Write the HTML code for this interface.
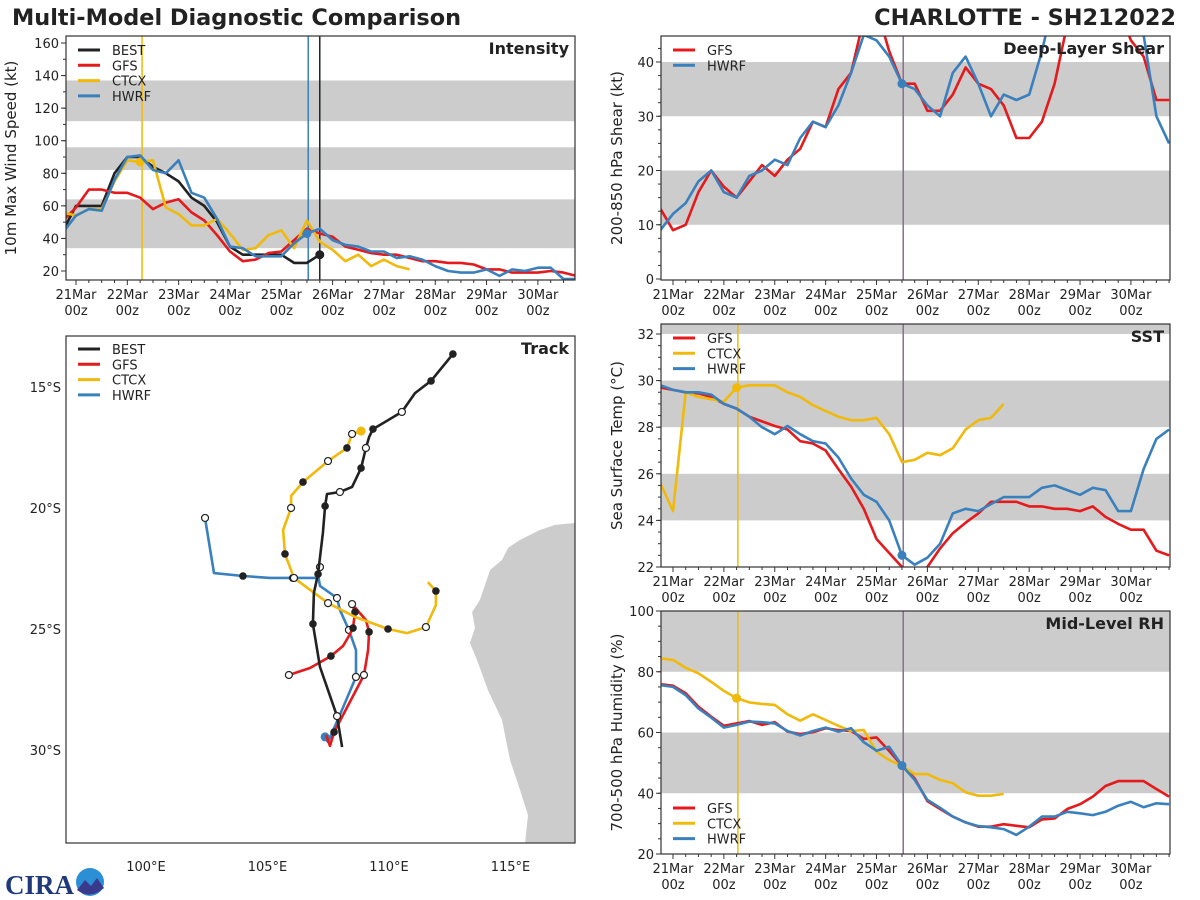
<!DOCTYPE html>
<html><head><meta charset="utf-8">
<style>
html,body{margin:0;padding:0;background:#fff;}
svg{display:block;font-family:"DejaVu Sans","Liberation Sans",sans-serif;}
</style></head>
<body>
<svg id="fig" width="1200" height="900" viewBox="0 0 1200 900" xmlns="http://www.w3.org/2000/svg">
<text x="12" y="25" font-size="22.4" font-weight="bold" fill="#222">Multi-Model Diagnostic Comparison</text>
<text x="1176" y="25" font-size="22.4" font-weight="bold" fill="#222" text-anchor="end">CHARLOTTE - SH212022</text>
<g>
<text x="5" y="894" font-size="27" font-weight="bold" fill="#1e3a7a" font-family="Liberation Serif, serif">CIRA</text>
<circle cx="90" cy="882" r="14" fill="#2b8fd6"/>
<path d="M77,890 L85,880 L91,886 L97,878 L104,888 Q90,900 77,890Z" fill="#3a3a8c"/>
</g>
</svg>
<script>
// ---------- data (6-hourly, first value = 20 Mar 18z) ----------
const intBest=[45,60,60,60,80,90,90,84,80,75,65,60,50,35,30,30,30,30,25,25,30];
const intGfs=[51,59,70,70,68,68,65,58,62,64,56,51,42,32,26,27,31,32,39,46,43,41,35,33,31,30,30,28,26,26,25,25,24,21,21,19,19,19,20,19,17];
const intCtcx=[56,54,58,58,75,88,87,88,59,55,48,48,52,43,33,34,42,45,34,51,38,33,26,30,23,27,23,21];
const intHwrf=[44,54,58,57,76,90,91,82,80,88,68,65,52,35,34,29,29,29,37,43,46,39,36,35,32,32,28,29,27,23,20,19,19,21,17,21,20,22,22,15,15];
const shrGfs=[13,9,10,16,20,17,15,18,21,19,22,24,29,28,35,38,48,50,42,36,36,31,31,34,39,36,35,32,26,26,29,36,47,50,50,50,50,44,41,33,33];
const shrHwrf=[9,12,14,18,20,16,15,19,20,22,21,26,29,28,32,38,45,44,41,36,35,32,30,38,41,36,30,34,33,34,42,52,55,55,55,55,55,55,45,30,25];
const sstGfs=[29.7,29.6,29.5,29.45,29.3,29.0,28.8,28.45,28.25,28.05,27.9,27.4,27.3,27.0,26.2,25.45,24.5,23.2,22.6,22.0,21.7,22.0,22.8,23.45,23.9,24.3,24.8,24.8,24.8,24.6,24.6,24.5,24.5,24.4,24.6,24.15,23.85,23.6,23.6,22.7,22.5];
const sstCtcx=[25.6,24.4,29.5,29.3,29.2,29.1,29.7,29.8,29.8,29.8,29.5,29.3,28.95,28.7,28.45,28.3,28.3,28.4,27.7,26.5,26.6,26.9,26.8,27.1,27.9,28.3,28.4,29.0];
const sstHwrf=[29.8,29.6,29.5,29.5,29.4,29.0,28.8,28.45,28.0,27.7,28.05,27.7,27.4,27.3,26.7,25.8,25.1,24.8,24.0,22.5,22.1,22.4,23.0,24.3,24.5,24.4,24.7,25.0,25.0,25.0,25.4,25.5,25.3,25.1,25.4,25.3,24.4,24.4,26.2,27.5,27.9];
const rhGfs=[75.9,75.4,72.9,68.5,65.2,62.2,63,63.8,62.5,63.4,60.3,59.5,60.1,61.4,60.8,60.5,57.9,58.4,53.9,49.1,44.9,37.4,34.8,32.3,30.4,29,29,29.8,29.3,28.8,31.4,31.7,34.8,36.4,38.9,42.4,44,44,44,41.4,38.9];
const rhCtcx=[84.4,83.9,81.3,79.5,76.7,73.7,71.3,69.9,69.4,69.1,66,63.9,66,64.1,62.2,60.5,60.8,53.7,50.9,49,46.3,46.3,44.4,43.3,40.3,39.2,39.2,39.8];
const rhHwrf=[75.6,75,72.3,67.9,64.9,61.6,62.5,63.6,63.4,63,60.5,59,60.5,61.6,60.3,61.4,56.8,54,55.3,49.1,44.4,37.8,35.2,32.3,30.4,29.2,28.8,28.2,26.3,29,32.3,32.3,33.9,33.4,32.8,33.9,35.9,37.2,35.4,36.7,36.4];
const dayLabels=["21Mar","22Mar","23Mar","24Mar","25Mar","26Mar","27Mar","28Mar","29Mar","30Mar"];
const intTicks=[20,40,60,80,100,120,140,160];
const shrTicks=[0,10,20,30,40];
const sstTicks=[22,24,26,28,30,32];
const rhTicks=[20,40,60,80,100];
// track data
const bestLon=[112.63,111.73,111.07,110.53,109.34,109.18,109.05,108.85,108.48,107.98,107.45,107.37,107.28,107.08,106.91,106.87,107.16,107.86,108.07];
const bestLat=[-13.64,-14.75,-15.25,-16.03,-16.74,-17.07,-17.52,-18.35,-19.13,-19.34,-19.42,-19.92,-21.03,-22.73,-23.51,-24.79,-26.57,-28.6,-29.88];
const bestMk=[1,1,0,2,1,0,2,1,0,2,0,1,0,1,0,1,0,2,0];
const gfsLon=[107.41,107.57,107.74,108.97,109.14,109.18,109.05,108.48,108.60,108.52,108.35,108.11,107.61,106.75,105.88];
const gfsLat=[-29.38,-29.83,-29.26,-26.90,-25.87,-25.12,-24.63,-23.97,-24.30,-24.96,-25.29,-25.70,-26.12,-26.61,-26.90];
const gfsMk=[0,0,1,2,0,1,0,2,1,1,0,0,1,0,2];
const hwrfLon=[107.37,107.49,107.98,108.64,108.64,108.35,107.98,107.86,107.16,107.08,107.16,107.0,106.05,105.10,103.99,102.80,102.43];
const hwrfLat=[-29.46,-29.67,-28.55,-26.98,-25.87,-25.04,-24.21,-23.72,-23.22,-22.77,-22.44,-22.89,-22.89,-22.89,-22.81,-22.69,-20.41];
const hwrfMk=[3,0,0,2,0,2,0,2,0,0,2,0,2,0,1,0,2];
const ctcxLon=[111.60,111.93,111.93,111.52,110.74,109.96,108.60,107.49,106.09,105.72,105.64,105.97,105.97,106.46,107.49,108.27,108.48,108.85];
const ctcxLat=[-23.06,-23.43,-24.01,-24.92,-25.17,-25.0,-24.50,-23.93,-22.89,-21.90,-20.91,-20.0,-19.50,-18.93,-18.06,-17.52,-16.94,-16.82];
const ctcxMk=[0,1,0,2,0,1,0,2,2,1,0,2,0,1,2,1,2,4];
const coastLon=[118.5,117.65,116.83,116.21,115.39,114.90,114.65,114.16,113.74,113.42,113.54,113.33,113.62,114.07,114.65,114.98,115.39,115.72,115.60,118.5];
const coastLat=[-20.6,-20.62,-20.70,-20.91,-21.32,-21.65,-22.15,-22.56,-23.80,-24.30,-24.96,-25.58,-26.28,-27.52,-28.76,-30.41,-31.65,-32.69,-33.84,-33.84];

const C={best:"#222222",gfs:"#e41a1c",ctcx:"#f0b90b",hwrf:"#3a80bd"};
const NS="http://www.w3.org/2000/svg";
const svg=document.getElementById("fig");
function el(tag,attrs,parent,name,inter){
  const e=document.createElementNS(NS,tag);
  for(const k in attrs) e.setAttribute(k,attrs[k]);
  
  
  (parent||svg).appendChild(e);
  return e;
}
function txt(x,y,s,attrs,parent,name){
  const t=el("text",Object.assign({x:x,y:y,"font-size":13,fill:"#222"},attrs||{}),parent,name,false);
  t.textContent=s;return t;
}
let clipId=0;
function panel(cfg){
  const g=el("g",{},svg,cfg.name,false);
  const id="clip"+(clipId++);
  const cp=el("clipPath",{id:id},g,cfg.name+"-clip",false);
  el("rect",{x:cfg.x0,y:cfg.y0,width:cfg.x1-cfg.x0,height:cfg.y1-cfg.y0},cp,cfg.name+"-clip-rect",false);
  const inner=el("g",{"clip-path":"url(#"+id+")"},g,cfg.name+"-plot-area",false);
  cfg.bands.forEach((b,i)=>{
    const ya=cfg.ys(b[1]),yb=cfg.ys(b[0]);
    el("rect",{x:cfg.x0,y:ya,width:cfg.x1-cfg.x0,height:yb-ya,fill:"#cccccc"},inner,cfg.name+"-band-"+i,false);
  });
  (cfg.vlines||[]).forEach(v=>{
    el("line",{x1:cfg.xs(v.t),x2:cfg.xs(v.t),y1:cfg.y0,y2:cfg.y1,stroke:v.c,"stroke-width":1.5},inner,cfg.name+"-"+v.n,false);
  });
  cfg.series.forEach(s=>{
    const pts=s.v.map((v,i)=>cfg.xs(i-1).toFixed(1)+","+cfg.ys(v).toFixed(1)).join(" ");
    el("polyline",{points:pts,fill:"none",stroke:s.c,"stroke-width":2.6,"stroke-linejoin":"round"},inner,cfg.name+"-"+s.n+"-line",false);
    (s.dots||[]).forEach(t=>{
      el("circle",{cx:cfg.xs(t),cy:cfg.ys(s.v[t+1]),r:4.5,fill:s.c},inner,cfg.name+"-"+s.n+"-marker",false);
    });
  });
  el("rect",{x:cfg.x0,y:cfg.y0,width:cfg.x1-cfg.x0,height:cfg.y1-cfg.y0,fill:"none",stroke:"#333","stroke-width":1.2},g,cfg.name+"-frame",false);
  for(let t=-1;t<=40;t++){
    const x=cfg.xs(t); if(x<cfg.x0-0.5||x>cfg.x1+0.5) continue;
    const major=(t%4===0);
    el("line",{x1:x,x2:x,y1:cfg.y1,y2:cfg.y1+(major?5:3),stroke:"#333","stroke-width":1},g,cfg.name+"-xtick",false);
    if(major&&t/4<dayLabels.length){
      txt(x,cfg.y1+19,dayLabels[t/4],{"text-anchor":"middle"},g,cfg.name+"-xtick-label");
      txt(x,cfg.y1+35,"00z",{"text-anchor":"middle"},g,cfg.name+"-xtick-label");
    }
  }
  const lo=cfg.yt[0],hi=cfg.yt[cfg.yt.length-1];
  for(let v=lo-cfg.minor*4;v<=hi+cfg.minor*4;v+=cfg.minor){
    const y=cfg.ys(v); if(y<cfg.y0-0.5||y>cfg.y1+0.5) continue;
    el("line",{x1:cfg.x0-3,x2:cfg.x0,y1:y,y2:y,stroke:"#333","stroke-width":1},g,cfg.name+"-ytick-minor",false);
  }
  cfg.yt.forEach(v=>{
    const y=cfg.ys(v);
    el("line",{x1:cfg.x0-5,x2:cfg.x0,y1:y,y2:y,stroke:"#333","stroke-width":1},g,cfg.name+"-ytick",false);
    txt(cfg.x0-7,y+5,String(v),{"text-anchor":"end"},g,cfg.name+"-ytick-label");
  });
  const ym=(cfg.y0+cfg.y1)/2, xl=cfg.ylx;
  txt(xl,ym,cfg.ylabel,{"text-anchor":"middle","font-size":15,transform:"rotate(-90 "+xl+" "+ym+")"},g,cfg.name+"-y-axis-title");
  txt(cfg.x1-6,cfg.y0+18,cfg.title,{"text-anchor":"end","font-size":16,"font-weight":"bold"},g,cfg.name+"-panel-title");
  legend(g,cfg.leg,cfg.legY,cfg.x0+12,cfg.name);
}
function legend(g,items,y0,x0,pn){
  items.forEach((it,i)=>{
    const y=y0+i*15.3;
    el("line",{x1:x0,x2:x0+22,y1:y,y2:y,stroke:it.c,"stroke-width":3},g,pn+"-legend-"+it.n.toLowerCase()+"-swatch",true);
    txt(x0+34,y+5,it.n,{},g,pn+"-legend-"+it.n.toLowerCase());
  });
}
const xsL=t=>76+t*12.83, xsR=t=>673+t*12.72;
const L4=[{n:"BEST",c:C.best},{n:"GFS",c:C.gfs},{n:"CTCX",c:C.ctcx},{n:"HWRF",c:C.hwrf}];
const L3=[{n:"GFS",c:C.gfs},{n:"CTCX",c:C.ctcx},{n:"HWRF",c:C.hwrf}];
panel({name:"intensity-panel",x0:66,x1:575,y0:36,y1:280,xs:xsL,ys:v=>271-(v-20)*1.6286,
  bands:[[34,64],[82,96],[112,137]],yt:intTicks,minor:10,ylabel:"10m Max Wind Speed (kt)",ylx:16,title:"Intensity",
  vlines:[{t:5.15,c:C.ctcx,n:"ctcx-init-line"},{t:18.1,c:C.hwrf,n:"hwrf-init-line"},{t:19,c:C.best,n:"best-latest-line"}],
  series:[{n:"best",v:intBest,c:C.best,dots:[19]},{n:"gfs",v:intGfs,c:C.gfs},{n:"ctcx",v:intCtcx,c:C.ctcx,dots:[5]},{n:"hwrf",v:intHwrf,c:C.hwrf,dots:[18]}],
  leg:L4,legY:50});
panel({name:"shear-panel",x0:661,x1:1170,y0:36,y1:280,xs:xsR,ys:v=>279-v*5.425,
  bands:[[10,20],[30,40]],yt:shrTicks,minor:2.5,ylabel:"200-850 hPa Shear (kt)",ylx:622,title:"Deep-Layer Shear",
  vlines:[{t:18.1,c:"#8b6f90",n:"init-line"}],
  series:[{n:"gfs",v:shrGfs,c:C.gfs},{n:"hwrf",v:shrHwrf,c:C.hwrf,dots:[18]}],
  leg:[{n:"GFS",c:C.gfs},{n:"HWRF",c:C.hwrf}],legY:50});
panel({name:"sst-panel",x0:661,x1:1170,y0:324,y1:567,xs:xsR,ys:v=>567-(v-22)*23.3,
  bands:[[24,26],[28,30],[32,34]],yt:sstTicks,minor:0.5,ylabel:"Sea Surface Temp (°C)",ylx:622,title:"SST",
  vlines:[{t:5.1,c:C.ctcx,n:"ctcx-init-line"},{t:18.1,c:"#8b6f90",n:"init-line"}],
  series:[{n:"gfs",v:sstGfs,c:C.gfs},{n:"ctcx",v:sstCtcx,c:C.ctcx,dots:[5]},{n:"hwrf",v:sstHwrf,c:C.hwrf,dots:[18]}],
  leg:L3,legY:338});
panel({name:"rh-panel",x0:661,x1:1170,y0:611,y1:854,xs:xsR,ys:v=>854-(v-20)*3.0375,
  bands:[[40,60],[80,100]],yt:rhTicks,minor:5,ylabel:"700-500 hPa Humidity (%)",ylx:622,title:"Mid-Level RH",
  vlines:[{t:5.1,c:C.ctcx,n:"ctcx-init-line"},{t:18.1,c:"#8b6f90",n:"init-line"}],
  series:[{n:"gfs",v:rhGfs,c:C.gfs},{n:"ctcx",v:rhCtcx,c:C.ctcx,dots:[5]},{n:"hwrf",v:rhHwrf,c:C.hwrf,dots:[18]}],
  leg:L3,legY:808});

// ---------- track map ----------
const tx0=66,tx1=575,ty0=336,ty1=843;
const lonX=lon=>146+(lon-100)*24.3, latY=lat=>387+(-lat-15)*24.2;
const tg=el("g",{},svg,"track-panel",false);
const tcp=el("clipPath",{id:"trackclip"},tg,"track-clip",false);
el("rect",{x:tx0,y:ty0,width:tx1-tx0,height:ty1-ty0},tcp,"track-clip-rect",false);
const ti=el("g",{"clip-path":"url(#trackclip)"},tg,"track-plot-area",false);
el("polygon",{points:coastLon.map((l,i)=>lonX(l).toFixed(1)+","+latY(coastLat[i]).toFixed(1)).join(" "),fill:"#cccccc"},ti,"australia-landmass",false);
function track(n,lon,lat,mk,c){
  el("polyline",{points:lon.map((l,i)=>lonX(l).toFixed(1)+","+latY(lat[i]).toFixed(1)).join(" "),fill:"none",stroke:c,"stroke-width":2.6,"stroke-linejoin":"round"},ti,"track-"+n+"-line",false);
  mk.forEach((m,i)=>{
    if(!m) return;
    const x=lonX(lon[i]),y=latY(lat[i]);
    if(m===1) el("circle",{cx:x,cy:y,r:3.8,fill:"#222"},ti,"track-"+n+"-marker-00z",false);
    else if(m===2) el("circle",{cx:x,cy:y,r:3.5,fill:"#fff",stroke:"#222","stroke-width":1.2},ti,"track-"+n+"-marker-12z",false);
    else el("circle",{cx:x,cy:y,r:4.5,fill:c},ti,"track-"+n+"-init-marker",false);
  });
}
track("hwrf",hwrfLon,hwrfLat,hwrfMk,C.hwrf);
track("gfs",gfsLon,gfsLat,gfsMk,C.gfs);
track("ctcx",ctcxLon,ctcxLat,ctcxMk,C.ctcx);
track("best",bestLon,bestLat,bestMk,C.best);
el("rect",{x:tx0,y:ty0,width:tx1-tx0,height:ty1-ty0,fill:"none",stroke:"#333","stroke-width":1.2},tg,"track-frame",false);
[100,105,110,115].forEach(l=>txt(lonX(l),871,l+"°E",{"text-anchor":"middle"},tg,"track-lon-label"));
[15,20,25,30].forEach(l=>txt(61,latY(-l)+5,l+"°S",{"text-anchor":"end"},tg,"track-lat-label"));
txt(tx1-6,ty0+18,"Track",{"text-anchor":"end","font-size":16,"font-weight":"bold"},tg,"track-panel-title");
legend(tg,L4,349,78,"track-panel");
</script>
</body></html>
